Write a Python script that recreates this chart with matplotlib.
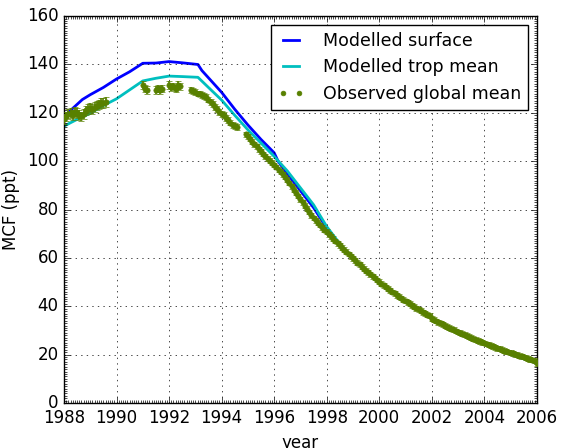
import matplotlib.pyplot as plt
import numpy as np
from matplotlib.ticker import MultipleLocator, FormatStrFormatter

plt.style.use('classic')

# modelled MCF, surface and tropospheric mean (ppt)
surf_t = [1988.0, 1988.15, 1988.4, 1988.7, 1989.0, 1989.5, 1990.0, 1990.5,
          1991.0, 1991.5, 1992.0, 1992.5, 1993.1, 1993.25, 1993.5, 1993.75,
          1994.0, 1994.5, 1995.0, 1995.5, 1996.0, 1996.15, 1996.5, 1997.0,
          1997.5, 1998.0, 1998.5, 1999.0, 1999.5, 2000.0, 2000.5, 2001.0,
          2001.5, 2002.0, 2002.5, 2003.0, 2003.5, 2004.0, 2004.5, 2005.0,
          2005.5, 2006.0]
surf = [116.5, 120.0, 122.5, 125.5, 127.5, 130.5, 134.0, 137.0,
        140.5, 140.6, 141.2, 140.7, 140.0, 137.5, 134.5, 131.5,
        128.5, 121.5, 115.0, 109.0, 103.5, 100.0, 94.8, 87.8,
        80.8, 72.4, 65.6, 59.8, 54.6, 50.0, 45.8, 42.0,
        38.5, 35.1, 32.1, 29.4, 26.8, 24.3, 22.2, 20.2,
        18.3, 16.5]

trop_t = [1988.0, 1988.5, 1989.0, 1989.5, 1990.0, 1990.5, 1991.0, 1991.5,
          1992.0, 1992.5, 1993.1, 1993.5, 1994.0, 1994.5, 1995.0, 1995.5,
          1996.0, 1996.5, 1997.0, 1997.5, 1998.0, 1998.5, 1999.0, 1999.5,
          2000.0, 2000.5, 2001.0, 2001.5, 2002.0, 2002.5, 2003.0, 2003.5,
          2004.0, 2004.5, 2005.0, 2005.5, 2006.0]
trop = [114.5, 117.3, 119.8, 123.0, 125.8, 129.5, 133.2, 134.3,
        135.2, 135.0, 134.7, 130.5, 125.3, 119.0, 113.0, 107.5,
        102.0, 96.0, 89.0, 82.0, 73.0, 65.8, 59.8, 54.6,
        50.0, 45.8, 42.0, 38.5, 35.1, 32.1, 29.4, 26.8,
        24.3, 22.2, 20.2, 18.3, 16.5]

# observed global mean, monthly, in the pieces where there are data
obs_start = [1988.0, 1991.0, 1991.5, 1992.0, 1992 + 10/12, 1994 + 11/12]
obs_vals = [
    [117.5, 118.5, 119.5, 120.0, 119.0, 120.5, 120.0, 119.0, 118.5, 119.5,
     121.0, 121.5, 122.0, 121.5, 122.5, 123.0, 123.5, 124.0, 124.0, 124.5],
    [131.5, 130.0, 129.5],
    [129.5, 130.0, 129.5, 130.0],
    [131.5, 130.5, 131.0, 130.0, 131.5, 131.0],
    [129.5, 129.0, 128.5, 128.0, 128.0, 127.5, 127.0, 126.5, 125.5, 124.5,
     123.5, 122.5, 121.5, 120.5, 119.5, 119.0, 118.0, 117.0, 116.0, 115.0,
     114.5, 114.0],
    [111.2,
     110.3, 109.2, 108.1, 107.0, 106.2, 105.0, 104.1, 103.0, 102.1, 101.0, 100.2, 99.3,
     98.4, 97.6, 96.5, 95.6, 94.6, 93.5, 92.4, 91.0, 89.6, 88.3, 86.9, 85.6,
     84.3, 83.0, 81.6, 80.3, 79.0, 77.7, 76.5, 75.5, 74.6, 73.6, 72.6, 71.7,
     70.8, 69.8, 68.9, 68.0, 67.0, 66.1, 65.2, 64.3, 63.4, 62.5, 61.6, 60.7,
     59.8, 59.0, 58.1, 57.3, 56.4, 55.6, 54.8, 54.0, 53.2, 52.4, 51.7, 50.9,
     50.1, 49.4, 48.7, 48.0, 47.3, 46.6, 45.9, 45.3, 44.6, 44.0, 43.4, 42.8,
     42.2, 41.6, 41.0, 40.4, 39.8, 39.2, 38.7, 38.2, 37.6, 37.1, 36.6, 36.1,
     34.9, 34.4, 33.9, 33.4, 33.0, 32.5, 32.0, 31.6, 31.1, 30.7, 30.3, 29.8,
     29.4, 29.0, 28.6, 28.2, 27.8, 27.4, 27.0, 26.6, 26.2, 25.8, 25.5, 25.1,
     24.8, 24.4, 24.1, 23.7, 23.4, 23.0, 22.7, 22.4, 22.0, 21.7, 21.4, 21.1,
     20.8, 20.5, 20.2, 19.9, 19.6, 19.3, 19.0, 18.7, 18.4, 18.1, 17.8, 17.5,
     16.4],
]
obs_err = [2.0, 1.5, 1.5, 1.5, 1.2, 1.0]

obs_t = np.concatenate([s + np.arange(len(v)) / 12. for s, v in zip(obs_start, obs_vals)])
obs = np.concatenate(obs_vals)
err = np.concatenate([np.full(len(v), e) for v, e in zip(obs_vals, obs_err)])

green = '#588000'

fig = plt.figure(figsize=(5.61, 4.48), dpi=100, facecolor='white')
ax = fig.add_axes([0.114, 0.1004, 0.843, 0.8636])

ax.plot(surf_t, surf, 'b-', lw=2, label='Modelled surface')
ax.plot(trop_t, trop, 'c-', lw=2, label='Modelled trop mean')
ax.errorbar(obs_t, obs, yerr=err, fmt='none', ecolor=green, elinewidth=1.2,
            capsize=2, zorder=3)
ax.plot(obs_t, obs, 'o', color=green, mec=green, ms=3.8, zorder=4,
        label='Observed global mean')

ax.set_xlim(1988, 2006)
ax.set_ylim(0, 160)
ax.set_xticks(np.arange(1988, 2007, 2))
ax.xaxis.set_major_formatter(FormatStrFormatter('%d'))
ax.xaxis.set_minor_locator(MultipleLocator(1 / 12.))
ax.yaxis.set_minor_locator(MultipleLocator(1))
ax.grid(True)

ax.set_xlabel('year')
ax.set_ylabel('MCF (ppt)')
ax.legend(loc='upper right', fontsize=12.5, handlelength=1.5,
          handletextpad=1.1, markerscale=0.9)

fig.savefig('out.png', dpi=100, facecolor='white')
